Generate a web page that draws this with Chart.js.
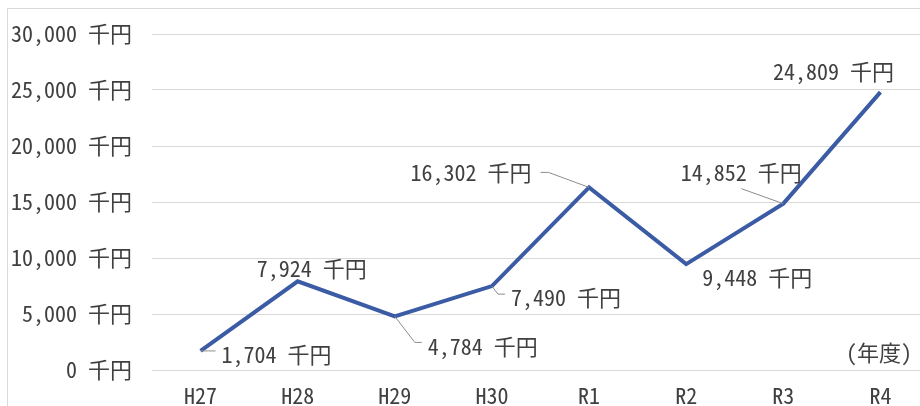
<!DOCTYPE html>
<html lang="ja">
<head>
<meta charset="utf-8">
<title>年度別推移</title>
<script src="https://cdn.jsdelivr.net/npm/chart.js@4/dist/chart.umd.min.js"></script>
<style>
  html, body { margin: 0; padding: 0; background: #ffffff; overflow: hidden; }
  body { width: 920px; height: 406px; position: relative; }
  #frame { position: absolute; left: 7px; top: 8px; width: 1000px; height: 500px; border: 1px solid #d9d9d9; box-sizing: border-box; }
  #wrap { position: absolute; left: 0; top: 0; width: 960px; height: 420px; }
</style>
</head>
<body>
<div id="frame"></div>
<div id="wrap"><canvas id="chart" width="960" height="420"></canvas></div>
<script>
// 年度
const years = ['H27', 'H28', 'H29', 'H30', 'R1', 'R2', 'R3', 'R4'];
// 金額（千円）
const amounts = [1704, 7924, 4784, 7490, 16302, 9448, 14852, 24809];
// 縦軸目盛
const axisMin = 0;
const axisMax = 30000;
const axisStep = 5000;
const unit = ' 千円';
const axisNote = '(年度)';

// データラベルの配置（点からのずれ px と引き出し線の向き）
const labelPlacement = [
  { dx: 76,   dy: 4,   leader: 'left' },
  { dx: 14,   dy: -13, leader: null },
  { dx: 88,   dy: 30,  leader: 'left' },
  { dx: 74,   dy: 12,  leader: 'left' },
  { dx: -118, dy: -15, leader: 'right' },
  { dx: 71,   dy: 13,  leader: null },
  { dx: -42,  dy: -31, leader: 'bottom' },
  { dx: -47,  dy: -20, leader: null }
];

const FONT_FAMILY = '"Noto Sans Mono CJK JP", "Noto Sans CJK JP", "Noto Sans CJK SC", sans-serif';
const TEXT_COLOR = '#404040';
const LINE_COLOR = '#3b5ba5';
const GRID_COLOR = '#d9d9d9';
const LEADER_COLOR = '#8c8c8c';

const fmt = v => String(v).replace(/\B(?=(\d{3})+(?!\d))/g, ',') + unit;

const valueLabels = {
  id: 'valueLabels',
  afterDatasetsDraw(chart) {
    const ctx = chart.ctx;
    const meta = chart.getDatasetMeta(0);
    ctx.save();
    ctx.font = '22px ' + FONT_FAMILY;
    ctx.fillStyle = TEXT_COLOR;
    ctx.textAlign = 'center';
    ctx.textBaseline = 'middle';
    meta.data.forEach((pt, i) => {
      const place = labelPlacement[i];
      const text = fmt(amounts[i]);
      const w = ctx.measureText(text).width;
      const cx = pt.x + place.dx;
      const cy = pt.y + place.dy;
      if (place.leader) {
        ctx.beginPath();
        ctx.strokeStyle = LEADER_COLOR;
        ctx.lineWidth = 1;
        if (place.leader === 'left') {
          const sx = cx - w / 2 - 6;
          ctx.moveTo(sx, cy - 4);
          ctx.lineTo(sx - 7, cy - 4);
        } else if (place.leader === 'right') {
          const sx = cx + w / 2 + 9;
          ctx.moveTo(sx, cy);
          ctx.lineTo(sx + 8, cy);
        } else {
          ctx.moveTo(cx, cy + 16);
        }
        ctx.lineTo(pt.x, pt.y);
        ctx.stroke();
      }
      ctx.fillText(text, cx, cy);
    });
    // 横軸の単位表示
    const area = chart.chartArea;
    ctx.textAlign = 'right';
    ctx.fillText(axisNote, area.right - 17, area.bottom - 17);
    ctx.restore();
  }
};

new Chart(document.getElementById('chart'), {
  type: 'line',
  data: {
    labels: years,
    datasets: [{
      data: amounts,
      borderColor: LINE_COLOR,
      borderWidth: 4,
      pointRadius: 0,
      pointHoverRadius: 0,
      tension: 0,
      fill: false,
      borderJoinStyle: 'miter'
    }]
  },
  options: {
    responsive: false,
    devicePixelRatio: 1,
    animation: false,
    events: [],
    layout: { padding: { left: 0, top: 34, right: 31, bottom: 10 } },
    plugins: {
      legend: { display: false },
      tooltip: { enabled: false },
      title: { display: false }
    },
    scales: {
      x: {
        type: 'category',
        offset: true,
        grid: { display: false, drawTicks: false },
        border: { display: false },
        ticks: {
          color: TEXT_COLOR,
          font: { family: FONT_FAMILY, size: 22 },
          padding: 12,
          maxRotation: 0,
          autoSkip: false
        },
        afterFit(scale) { scale.height = 40; }
      },
      y: {
        min: axisMin,
        max: axisMax,
        grid: { color: GRID_COLOR, lineWidth: 1, drawTicks: false },
        border: { display: false },
        ticks: {
          stepSize: axisStep,
          color: TEXT_COLOR,
          font: { family: FONT_FAMILY, size: 22 },
          padding: 20,
          callback: v => fmt(v)
        },
        afterFit(scale) { scale.width = 152; }
      }
    }
  },
  plugins: [valueLabels]
});
</script>
</body>
</html>
